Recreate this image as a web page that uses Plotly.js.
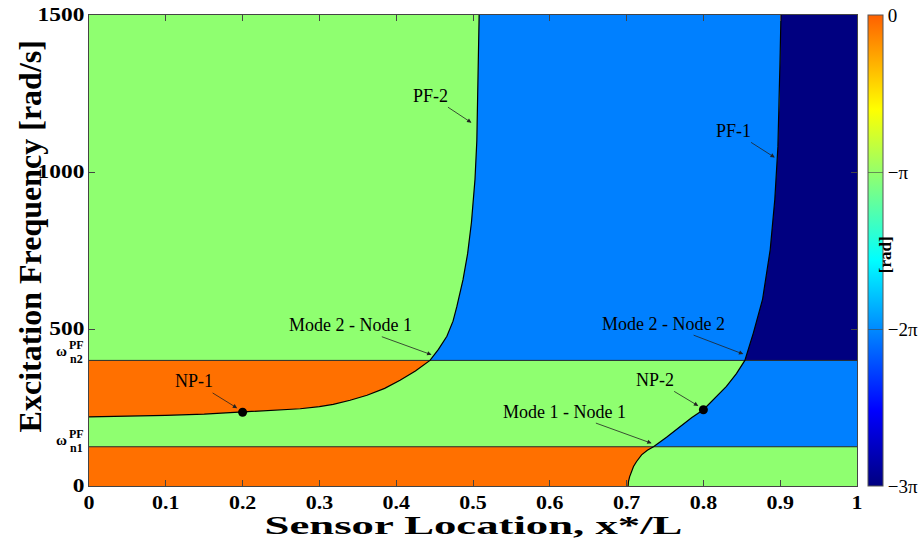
<!DOCTYPE html>
<html>
<head>
<meta charset="utf-8">
<script src="https://cdn.plot.ly/plotly-3.0.1.min.js"></script>
<style>html,body{margin:0;padding:0;background:#fff}</style>
</head>
<body>
<div id="chart" style="width:924px;height:542px"></div>
<script>
// Natural frequencies of the first two modes (rad/s)
const omegaN1 = 125;
const omegaN2 = 400;

// PF-2 phase boundary: sensor location x*/L vs. excitation frequency
const pf2X = [0, 0.05, 0.10, 0.15, 0.20, 0.24, 0.275, 0.30, 0.318, 0.34, 0.362, 0.385, 0.405, 0.425, 0.444,
              0.455, 0.466, 0.474, 0.479, 0.487, 0.493, 0.498, 0.5026, 0.505, 0.507, 0.508];
const pf2Y = [220, 222, 225, 229, 235, 240, 246, 253, 260, 273, 289, 311, 337, 366, 400,
              435, 477, 525, 572, 657, 740, 840, 977, 1100, 1360, 1500];

// PF-1 phase boundary
const pf1X = [0.702, 0.7025, 0.704, 0.706, 0.709, 0.713, 0.7195, 0.727, 0.735, 0.752, 0.7695, 0.785, 0.800,
              0.815, 0.830, 0.843, 0.854, 0.865, 0.877, 0.887, 0.893, 0.897, 0.899, 0.900, 0.901];
const pf1Y = [0, 15, 30, 45, 62, 78, 99, 114, 125, 155, 190, 218, 243,
              280, 317, 358, 400, 487, 594, 753, 913, 1080, 1232, 1380, 1500];

// Nodal points NP-1 and NP-2
const npX = [0.2, 0.8];
const npY = [235, 243];

// Phase levels (rad) and their colorbar labels
const phaseLevels = [0, -Math.PI, -2 * Math.PI, -3 * Math.PI];
const phaseTickText = ['0', '\u2212\u03c0', '\u22122\u03c0', '\u22123\u03c0'];

// Axis ticks
const xTicks = [0, 0.1, 0.2, 0.3, 0.4, 0.5, 0.6, 0.7, 0.8, 0.9, 1];
const xTickText = ['0', '0.1', '0.2', '0.3', '0.4', '0.5', '0.6', '0.7', '0.8', '0.9', '1'];
const yTicks = [0, 500, 1000, 1500];
const yTickText = ['0', '500', '1000', '1500'];

// Region fill colours for each phase level
const regionColor = {
  '0': 'rgb(255,112,0)',
  '-1': 'rgb(143,255,112)',
  '-2': 'rgb(0,128,255)',
  '-3': 'rgb(0,0,128)'
};

// Jet-like colorscale for the colorbar
const jetScale = [
  [0.00, 'rgb(0,0,128)'],
  [0.16, 'rgb(0,0,255)'],
  [0.48, 'rgb(0,255,255)'],
  [0.64, 'rgb(128,255,128)'],
  [0.80, 'rgb(255,255,0)'],
  [1.00, 'rgb(255,96,0)']
];

const SERIF = 'Liberation Serif, Times New Roman, serif';

function pick(xs, ys, test) {
  const px = [], py = [];
  for (let i = 0; i < xs.length; i++) if (test(ys[i])) { px.push(xs[i]); py.push(ys[i]); }
  return { x: px, y: py };
}

function region(x, y, color) {
  return {
    type: 'scatter', mode: 'lines', x: x, y: y, fill: 'toself',
    fillcolor: color, line: { width: 0, color: color }, hoverinfo: 'skip', showlegend: false
  };
}

const pf1Low = pick(pf1X, pf1Y, v => v <= omegaN1);
const pf1Mid = pick(pf1X, pf1Y, v => v >= omegaN1 && v <= omegaN2);
const pf1High = pick(pf1X, pf1Y, v => v >= omegaN2);
const pf2Mid = pick(pf2X, pf2Y, v => v <= omegaN2);
const pf2High = pick(pf2X, pf2Y, v => v >= omegaN2);

const traces = [
  // -π background
  region([0, 1, 1, 0], [0, 0, 1500, 1500], regionColor['-1']),
  // 0 rad below the first natural frequency
  region([0].concat(pf1Low.x, [0]), [0].concat(pf1Low.y, [omegaN1]), regionColor['0']),
  // 0 rad between the natural frequencies, above PF-2
  region(pf2Mid.x.concat([0]), pf2Mid.y.concat([omegaN2]), regionColor['0']),
  // -2π between the natural frequencies, right of PF-1
  region(pf1Mid.x.concat([1, 1]), pf1Mid.y.concat([omegaN2, omegaN1]), regionColor['-2']),
  // -2π above the second natural frequency, between PF-2 and PF-1
  region(pf2High.x.concat(pf1High.x.slice().reverse()), pf2High.y.concat(pf1High.y.slice().reverse()), regionColor['-2']),
  // -3π right of PF-1
  region(pf1High.x.concat([1, 1]), pf1High.y.concat([1500, omegaN2]), regionColor['-3']),
  // boundary lines
  { type: 'scatter', mode: 'lines', x: [0, 1], y: [omegaN1, omegaN1], line: { color: '#2a2a2a', width: 1 }, hoverinfo: 'skip', showlegend: false },
  { type: 'scatter', mode: 'lines', x: [0, 1], y: [omegaN2, omegaN2], line: { color: '#2a2a2a', width: 1 }, hoverinfo: 'skip', showlegend: false },
  { type: 'scatter', mode: 'lines', x: pf2X, y: pf2Y, line: { color: '#000', width: 1.2 }, hoverinfo: 'skip', showlegend: false },
  { type: 'scatter', mode: 'lines', x: pf1X, y: pf1Y, line: { color: '#000', width: 1.2 }, hoverinfo: 'skip', showlegend: false },
  // nodal points
  { type: 'scatter', mode: 'markers', x: npX, y: npY, marker: { color: '#000', size: 9 }, hoverinfo: 'skip', showlegend: false },
  // colorbar carrier
  {
    type: 'scatter', mode: 'markers', x: [npX[0]], y: [npY[0]], hoverinfo: 'skip', showlegend: false,
    marker: {
      size: 1, opacity: 0, color: [phaseLevels[0]], cmin: phaseLevels[3], cmax: phaseLevels[0],
      colorscale: jetScale, showscale: true,
      colorbar: {
        x: 1.0143, xanchor: 'left', y: 0.5, yanchor: 'middle', len: 1, lenmode: 'fraction',
        thickness: 15, thicknessmode: 'pixels', outlinewidth: 1, outlinecolor: '#555',
        tickvals: phaseLevels, ticktext: phaseTickText, ticks: 'inside', ticklen: 15,
        tickcolor: 'rgba(70,70,70,0.6)', tickwidth: 1,
        tickfont: { family: SERIF, size: 19, color: '#000' }, xpad: 0, ypad: 0
      }
    }
  }
];

function note(text, tx, ty, hx, hy) {
  return {
    x: hx, y: hy, ax: tx, ay: ty, axref: 'x', ayref: 'y', xref: 'x', yref: 'y',
    text: text, showarrow: true, arrowhead: 2, arrowsize: 1.1, arrowwidth: 0.8, arrowcolor: '#222',
    standoff: 0, startstandoff: 0,
    font: { family: SERIF, size: 18, color: '#000' }
  };
}

function label(text, px, y, size) {
  return {
    xref: 'paper', yref: 'y', x: px, y: y, text: text, showarrow: false,
    xanchor: 'center', yanchor: 'middle',
    font: { family: SERIF, size: size, color: '#000', weight: 700 }
  };
}

const annotations = [
  // axis titles
  {
    xref: 'paper', yref: 'paper', x: 0.5, y: -0.083, text: 'Sensor Location, x*/L', showarrow: false,
    xanchor: 'center', yanchor: 'middle', font: { family: SERIF, size: 26, color: '#000', weight: 700 }
  },
  {
    xref: 'paper', yref: 'paper', x: -0.0768, y: 0.53, text: 'Excitation Frequency [rad/s]', showarrow: false,
    textangle: -90, xanchor: 'center', yanchor: 'middle', font: { family: SERIF, size: 32, color: '#000', weight: 700 }
  },
  note('PF-2', 0.4447, 1243, 0.498, 1157),
  note('PF-1', 0.8386, 1131, 0.893, 1046),
  note('Mode 2 - Node 1', 0.340, 512, 0.446, 418),
  note('Mode 2 - Node 2', 0.748, 517, 0.852, 420),
  note('NP-1', 0.1367, 333, 0.193, 248),
  note('NP-2', 0.737, 338, 0.7934, 255),
  note('Mode 1 - Node 1', 0.6187, 237, 0.7326, 136),
  // ω labels beside the natural-frequency lines
  label('\u03c9', -0.0352, 430, 15),
  label('PF', -0.0160, 448, 12),
  label('n2', -0.0160, 404, 12),
  label('\u03c9', -0.0352, 148, 15),
  label('PF', -0.0160, 166, 12),
  label('n1', -0.0160, 120, 12),
  // colorbar unit
  {
    xref: 'paper', yref: 'paper', x: 1.052, y: 0.491, text: '[rad]', showarrow: false,
    textangle: -90, font: { family: SERIF, size: 17, color: '#000', weight: 700 }
  }
];

const axisFont = { family: SERIF, size: 18, color: '#000', weight: 700 };

const layout = {
  width: 924, height: 542,
  margin: { l: 89, r: 67, t: 15, b: 56, autoexpand: false },
  paper_bgcolor: '#fff', plot_bgcolor: '#fff',
  showlegend: false,
  xaxis: {
    range: [0, 1], tickvals: xTicks, ticktext: xTickText, ticks: 'inside', ticklen: 6,
    tickcolor: '#444', showline: true, linecolor: '#444', linewidth: 1, mirror: 'ticks',
    showgrid: false, zeroline: false, tickfont: axisFont
  },
  yaxis: {
    range: [0, 1500], tickvals: yTicks, ticktext: yTickText, ticks: 'inside', ticklen: 6,
    tickcolor: '#444', showline: true, linecolor: '#444', linewidth: 1, mirror: 'ticks',
    showgrid: false, zeroline: false, tickfont: axisFont
  },
  annotations: annotations
};

// Widen a text element horizontally (the lettering is drawn broad)
function widen(el, factor) {
  const w = el.getComputedTextLength();
  if (!w) return;
  el.setAttribute('textLength', (w * factor).toFixed(1));
  el.setAttribute('lengthAdjust', 'spacingAndGlyphs');
}

Plotly.newPlot('chart', traces, layout, { staticPlot: true, displayModeBar: false }).then(function (gd) {
  gd.querySelectorAll('.xtick text').forEach(t => widen(t, 1.22));
  gd.querySelectorAll('.ytick text').forEach(t => widen(t, 1.3));
  const titleText = gd.querySelectorAll('.annotation')[0].querySelector('text');
  if (titleText) widen(titleText, 1.72);
});
</script>
</body>
</html>
